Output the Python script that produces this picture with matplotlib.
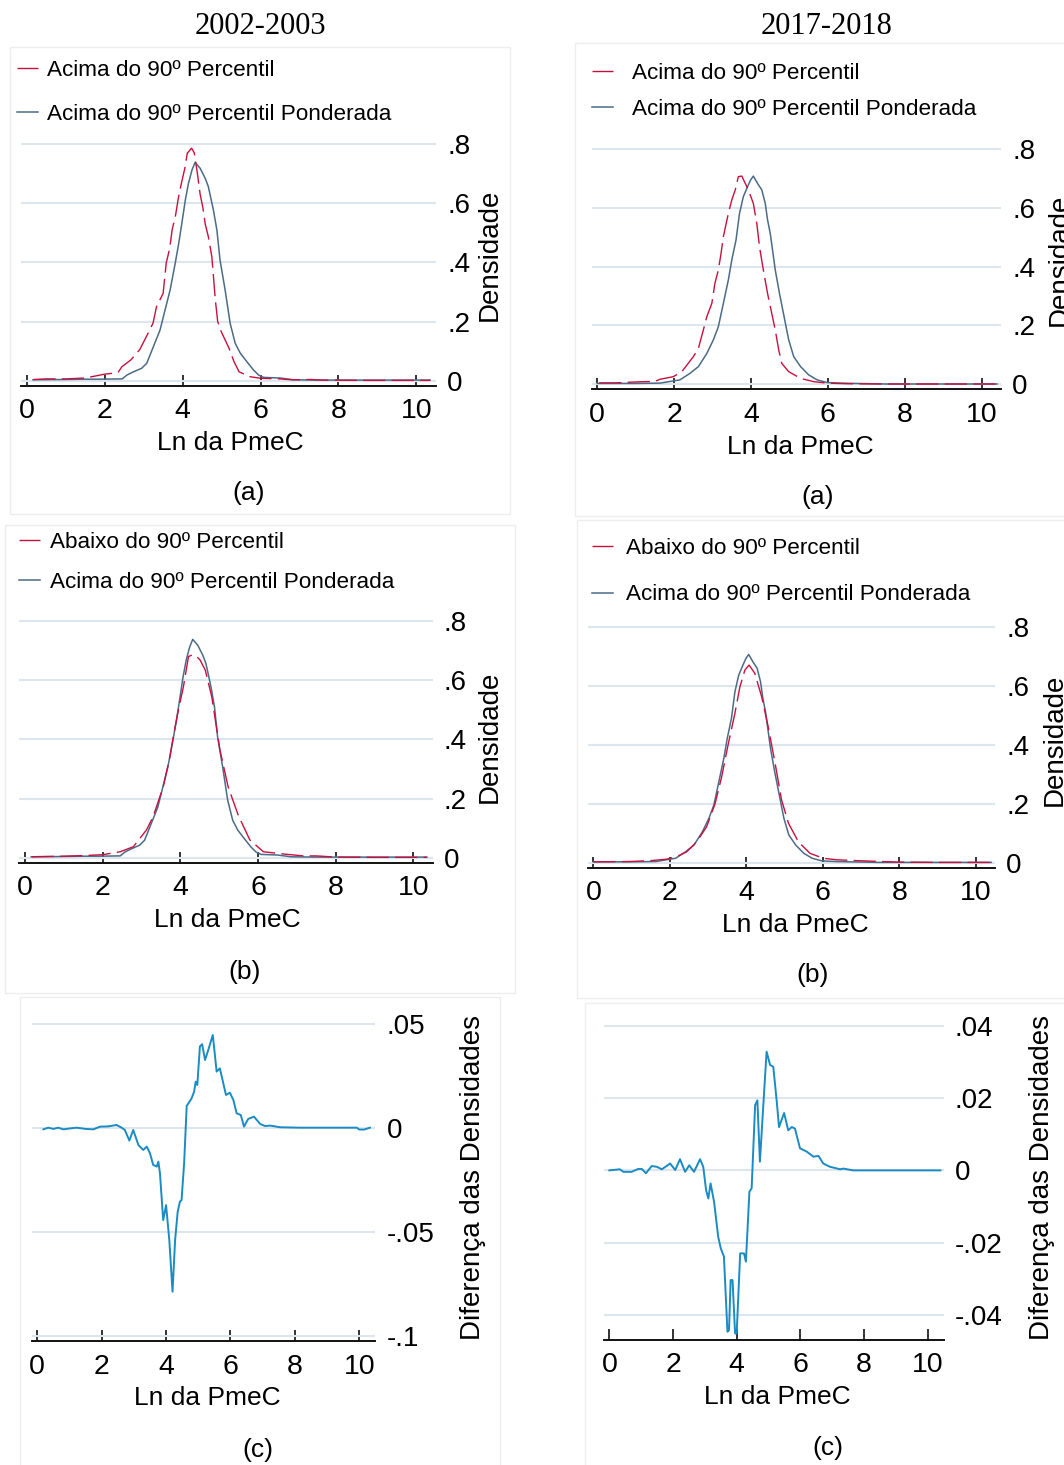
import matplotlib
matplotlib.use('Agg')
import matplotlib.pyplot as plt
from matplotlib.patches import Rectangle

# ---------------- data ----------------
# 2002-2003
x02_acima = [0.17, 0.5, 1.0, 1.5, 2.0, 2.34, 2.44, 2.67, 2.9, 3.07, 3.24, 3.33, 3.5, 3.58, 3.67,
             3.73, 3.82, 3.89, 3.96, 4.06, 4.12, 4.23, 4.30, 4.38, 4.45, 4.52, 4.58, 4.66, 4.75,
             4.84, 4.90, 4.99, 5.19, 5.32, 5.45, 5.58, 5.70, 6.0, 6.5, 6.8, 7.27, 7.6, 8.5, 9.5, 10.35]
y02_acima = [0.004, 0.006, 0.006, 0.009, 0.022, 0.027, 0.047, 0.07, 0.105, 0.149, 0.194, 0.25, 0.295,
             0.398, 0.448, 0.509, 0.56, 0.617, 0.662, 0.72, 0.769, 0.786, 0.77, 0.70, 0.63, 0.585,
             0.53, 0.487, 0.419, 0.273, 0.2, 0.166, 0.11, 0.064, 0.03, 0.022, 0.014, 0.008, 0.006,
             0.003, 0.004, 0.002, 0.001, 0.001, 0.001]

x02_pond = [0.16, 1.0, 1.5, 1.88, 2.45, 2.57, 2.74, 2.95, 3.08, 3.25, 3.42, 3.55, 3.68, 3.81, 3.90,
            3.98, 4.07, 4.15, 4.24, 4.32, 4.45, 4.58, 4.66, 4.79, 4.88, 4.96, 5.09, 5.22, 5.35, 5.48,
            5.65, 5.82, 5.95, 6.08, 6.5, 6.85, 7.5, 8.5, 9.5, 10.35]
y02_pond = [0.003, 0.004, 0.005, 0.005, 0.006, 0.019, 0.03, 0.042, 0.059, 0.115, 0.171, 0.239, 0.307,
            0.397, 0.464, 0.532, 0.611, 0.667, 0.712, 0.738, 0.718, 0.684, 0.656, 0.577, 0.509, 0.408,
            0.307, 0.194, 0.126, 0.093, 0.064, 0.036, 0.019, 0.011, 0.009, 0.003, 0.002, 0.002, 0.002,
            0.002]

x02_abaixo = [0.17, 1.0, 1.5, 2.0, 2.45, 2.79, 3.13, 3.30, 3.56, 3.73, 3.82, 3.95, 4.08, 4.21, 4.30,
              4.40, 4.51, 4.64, 4.81, 5.02, 5.23, 5.49, 5.79, 6.14, 6.61, 7.17, 7.5, 8.0, 9.0, 10.35]
y02_abaixo = [0.003, 0.005, 0.007, 0.01, 0.02, 0.037, 0.094, 0.139, 0.24, 0.34, 0.41, 0.5, 0.578, 0.68,
              0.685, 0.683, 0.668, 0.635, 0.544, 0.364, 0.24, 0.144, 0.06, 0.02, 0.013, 0.006, 0.006,
              0.002, 0.001, 0.001]

x02_diff = [0.19, 0.34, 0.5, 0.65, 0.81, 1.0, 1.22, 1.5, 1.74, 1.95, 2.2, 2.46, 2.62, 2.72, 2.86, 2.98,
            3.14, 3.29, 3.40, 3.50, 3.60, 3.71, 3.76, 3.81, 3.91, 4.00, 4.10, 4.20, 4.28, 4.36, 4.43,
            4.48, 4.56, 4.64, 4.79, 4.87, 4.92, 4.97, 5.05, 5.12, 5.21, 5.31, 5.45, 5.57, 5.67, 5.86,
            5.98, 6.09, 6.19, 6.32, 6.42, 6.55, 6.73, 6.92, 7.07, 7.23, 7.54, 8.16, 9.0, 9.92, 10.0,
            10.15, 10.33]
y02_diff = [-0.0008, 0.0, -0.0006, 0.0, -0.0008, -0.0004, 0.0, -0.0006, -0.0008, 0.0005, 0.0006, 0.0013,
            0.0, -0.0011, -0.0062, -0.0011, -0.0083, -0.0107, -0.0091, -0.0123, -0.0179, -0.0187,
            -0.0163, -0.0219, -0.0444, -0.0372, -0.054, -0.0788, -0.054, -0.0404, -0.0355, -0.0348,
            -0.0172, 0.0104, 0.014, 0.0173, 0.0221, 0.0205, 0.039, 0.0401, 0.0325, 0.0373, 0.0445,
            0.0269, 0.0285, 0.0157, 0.0168, 0.0133, 0.0069, 0.0061, 0.0005, 0.0042, 0.0053, 0.0018,
            0.0008, 0.001, 0.0002, 0.0, 0.0, 0.0, -0.0009, -0.0009, 0.0]

# 2017-2018
x17_acima = [0.05, 0.5, 1.0, 1.5, 1.63, 1.98, 2.2, 2.5, 2.63, 2.76, 2.85, 2.98, 3.06, 3.15, 3.22, 3.28,
             3.41, 3.5, 3.59, 3.67, 3.76, 3.85, 3.93, 4.06, 4.15, 4.22, 4.32, 4.43, 4.52, 4.63, 4.72,
             4.8, 4.98, 5.29, 5.63, 5.98, 6.5, 7.5, 8.5, 9.5, 10.4]
y17_acima = [0.005, 0.005, 0.008, 0.01, 0.017, 0.026, 0.043, 0.094, 0.122, 0.185, 0.23, 0.275, 0.343,
             0.389, 0.445, 0.502, 0.581, 0.627, 0.661, 0.706, 0.708, 0.683, 0.661, 0.615, 0.547, 0.468,
             0.389, 0.309, 0.253, 0.185, 0.117, 0.071, 0.043, 0.02, 0.009, 0.004, 0.002, 0.001, 0.001,
             0.001, 0.001]

x17_pond = [0.0, 0.5, 1.0, 1.63, 2.15, 2.41, 2.63, 2.85, 3.02, 3.15, 3.28, 3.41, 3.5, 3.61, 3.7, 3.8,
            3.91, 3.99, 4.06, 4.17, 4.28, 4.37, 4.43, 4.5, 4.63, 4.74, 4.86, 4.98, 5.11, 5.29, 5.5,
            5.72, 5.98, 6.33, 6.67, 7.5, 8.5, 9.5, 10.4]
y17_pond = [0.003, 0.003, 0.003, 0.004, 0.015, 0.037, 0.06, 0.105, 0.151, 0.196, 0.275, 0.355, 0.423,
            0.491, 0.581, 0.638, 0.672, 0.695, 0.708, 0.683, 0.661, 0.615, 0.559, 0.513, 0.389, 0.309,
            0.23, 0.151, 0.094, 0.06, 0.032, 0.015, 0.006, 0.004, 0.003, 0.001, 0.001, 0.001, 0.001]

x17_abaixo = [0.0, 0.96, 1.5, 1.92, 2.2, 2.44, 2.7, 2.96, 3.18, 3.35, 3.53, 3.70, 3.83, 3.96, 4.07,
              4.22, 4.40, 4.57, 4.75, 4.92, 5.10, 5.36, 5.66, 6.01, 6.36, 6.88, 7.32, 8.0, 9.0, 10.4]
y17_abaixo = [0.003, 0.004, 0.007, 0.012, 0.022, 0.037, 0.071, 0.122, 0.2, 0.29, 0.406, 0.508, 0.598,
              0.655, 0.672, 0.644, 0.564, 0.462, 0.338, 0.213, 0.134, 0.071, 0.032, 0.015, 0.01, 0.007,
              0.005, 0.002, 0.001, 0.001]

x17_diff = [0.0, 0.33, 0.44, 0.70, 0.91, 1.02, 1.15, 1.33, 1.49, 1.65, 1.91, 2.07, 2.22, 2.38, 2.51,
            2.66, 2.85, 2.95, 3.04, 3.11, 3.18, 3.29, 3.42, 3.50, 3.60, 3.71, 3.76, 3.81, 3.87, 3.95,
            4.00, 4.11, 4.23, 4.29, 4.40, 4.47, 4.58, 4.65, 4.73, 4.84, 4.94, 5.05, 5.15, 5.26, 5.33,
            5.49, 5.62, 5.73, 5.83, 5.99, 6.20, 6.41, 6.57, 6.72, 6.93, 7.25, 7.35, 7.66, 8.5, 9.5,
            10.4]
y17_diff = [0.0, 0.0003, -0.0004, -0.0004, 0.0004, 0.0004, -0.0008, 0.0012, 0.001, 0.0003, 0.0019,
            0.0001, 0.0031, -0.0004, 0.0014, -0.0004, 0.0031, 0.001, -0.0055, -0.0078, -0.0036,
            -0.0087, -0.0184, -0.0216, -0.0239, -0.0447, -0.0443, -0.0304, -0.0304, -0.0452, -0.0452,
            -0.023, -0.023, -0.0253, -0.0059, -0.005, 0.0181, 0.0194, 0.0024, 0.0185, 0.0329, 0.0292,
            0.0287, 0.019, 0.012, 0.0159, 0.0111, 0.012, 0.0116, 0.0061, 0.0052, 0.0038, 0.004, 0.0019,
            0.001, 0.0003, 0.0005, 0.0, 0.0, 0.0, 0.0]

xticks = [0, 2, 4, 6, 8, 10]
dens_ticks = [0, 0.2, 0.4, 0.6, 0.8]
dens_labels = ['0', '.2', '.4', '.6', '.8']
diff02_ticks = [-0.1, -0.05, 0, 0.05]
diff02_labels = ['-.1', '-.05', '0', '.05']
diff17_ticks = [-0.04, -0.02, 0, 0.02, 0.04]
diff17_labels = ['-.04', '-.02', '0', '.02', '.04']

lab_acima = 'Acima do 90º Percentil'
lab_abaixo = 'Abaixo do 90º Percentil'
lab_pond = 'Acima do 90º Percentil Ponderada'

# ---------------- style ----------------
W, H = 1064, 1465
plt.rcParams['font.family'] = ['Liberation Sans', 'DejaVu Sans']
fig = plt.figure(figsize=(W / 100, H / 100), dpi=100)

RED = '#c8103e'
BLUE = '#4b6b88'
CYAN = '#1a8bc3'
GRID = '#dce6ec'
XTICK_FS = 20.5
YTICK_FS = 20
XLAB_FS = 19
YLAB_FS = 20
CAP_FS = 19
LEG_FS = 16.2


def frac(x, y):
    return x / W, 1 - y / H


def add_axes(l, t, r, b):
    return fig.add_axes([l / W, 1 - b / H, (r - l) / W, (b - t) / H])


def style(ax, xlim, ylim, yt, ytl):
    ax.set_xlim(*xlim)
    ax.set_ylim(*ylim)
    for s in ['top', 'left', 'right']:
        ax.spines[s].set_visible(False)
    ax.spines['bottom'].set_linewidth(1.4)
    ax.spines['bottom'].set_color('#111111')
    ax.set_xticks(xticks)
    ax.set_xticklabels([str(v) for v in xticks])
    ax.tick_params(axis='x', direction='in', length=8, width=1.2, color='#111111',
                   labelsize=XTICK_FS, pad=9)
    ax.yaxis.tick_right()
    ax.set_yticks(yt)
    ax.set_yticklabels(ytl)
    ax.tick_params(axis='y', length=0, labelsize=YTICK_FS, pad=8)
    ax.grid(axis='y', color=GRID, lw=1.5)
    ax.set_axisbelow(True)
    ax.patch.set_alpha(0)


def labels(ax, box, ylab, ycx, ycy, xcx, xcy):
    l, t, r, b = box
    ax.set_ylabel(ylab, fontsize=YLAB_FS)
    ax.yaxis.set_label_position('right')
    ax.yaxis.set_label_coords((ycx - l) / (r - l), (b - ycy) / (b - t))
    ax.yaxis.label.set(rotation=90, ha='center', va='center', rotation_mode='anchor')
    ax.set_xlabel('Ln da PmeC', fontsize=XLAB_FS)
    ax.xaxis.set_label_coords((xcx - l) / (r - l), (b - xcy) / (b - t))
    ax.xaxis.label.set(ha='center', va='center')


def density_panel(box, xr, yr, lab_r, xb, yb, lab_b, leg_xy, spacing, tpad,
                  ylab_c, xlab_c, caption, cap_c):
    ax = add_axes(*box)
    style(ax, (-0.15, 10.5), (-0.017, 0.815), dens_ticks, dens_labels)
    ax.plot(xr, yr, color=RED, lw=1.0, dashes=(16, 4.5), label=lab_r, zorder=3)
    ax.plot(xb, yb, color=BLUE, lw=1.1, label=lab_b, zorder=2)
    ax.legend(loc='upper left', bbox_to_anchor=frac(*leg_xy), bbox_transform=fig.transFigure,
              frameon=False, fontsize=LEG_FS, handlelength=0.93, handletextpad=tpad,
              labelspacing=spacing, borderpad=0, borderaxespad=0)
    labels(ax, box, 'Densidade', ylab_c[0], ylab_c[1], xlab_c[0], xlab_c[1])
    fig.text(*frac(*cap_c), caption, fontsize=CAP_FS, ha='center', va='center')
    return ax


def diff_panel(box, xlim, ylim, xd, yd, yt, ytl, ylab_c, xlab_c, caption, cap_c):
    ax = add_axes(*box)
    style(ax, xlim, ylim, yt, ytl)
    ax.plot(xd, yd, color=CYAN, lw=1.4)
    labels(ax, box, 'Diferença das Densidades', ylab_c[0], ylab_c[1], xlab_c[0], xlab_c[1])
    fig.text(*frac(*cap_c), caption, fontsize=CAP_FS, ha='center', va='center')
    return ax


# faint panel frames
for (l, t, r, b) in [(10, 47, 510, 514), (575, 43, 1070, 516), (5, 525, 515, 993),
                     (577, 520, 1070, 998), (20, 997, 500, 1470), (585, 1003, 1070, 1470)]:
    fig.add_artist(Rectangle(((l) / W, 1 - b / H), (r - l) / W, (b - t) / H, fill=False,
                             edgecolor='#eeeeee', lw=1.0, transform=fig.transFigure))

# titles
fig.text(*frac(260, 27), '2002-2003', family=['Liberation Serif', 'DejaVu Serif'], fontsize=22,
         ha='center', va='center')
fig.text(*frac(827, 27), '2017-2018', family=['Liberation Serif', 'DejaVu Serif'], fontsize=22,
         ha='center', va='center')

# (a) panels
density_panel((20.9, 139.6, 435.9, 385.7), x02_acima, y02_acima, lab_acima, x02_pond, y02_pond,
              lab_pond, (17, 59.5), 1.04, 0.42, (490, 255), (230, 443), '(a)', (249, 493))
density_panel((591.5, 144.6, 1000.9, 389.3), x17_acima, y17_acima, lab_acima, x17_pond, y17_pond,
              lab_pond, (591.7, 63), 0.66, 0.86, (1060, 260), (800, 447), '(a)', (818, 497))
# (b) panels
density_panel((19.2, 616.6, 432.7, 862.7), x02_abaixo, y02_abaixo, lab_abaixo, x02_pond, y02_pond,
              lab_pond, (19, 532), 0.86, 0.45, (490, 737), (227, 920), '(b)', (245, 972))
density_panel((587.6, 623.0, 995.1, 867.7), x17_abaixo, y17_abaixo, lab_abaixo, x17_pond, y17_pond,
              lab_pond, (591.7, 538), 1.13, 0.6, (1055, 740), (795, 925), '(b)', (813, 975))
# (c) panels
diff_panel((31.8, 1019.4, 375.4, 1341.1), (-0.17, 10.5), (-0.1025, 0.052), x02_diff, y02_diff,
           diff02_ticks, diff02_labels, (473, 1177), (207, 1398), '(c)', (258, 1450))
diff_panel((603.6, 1020.6, 943.6, 1340.0), (-0.18, 10.5), (-0.047, 0.0415), x17_diff, y17_diff,
           diff17_ticks, diff17_labels, (1042, 1177), (777, 1397), '(c)', (828, 1448))

fig.savefig('out.png', dpi=100, facecolor='white')
